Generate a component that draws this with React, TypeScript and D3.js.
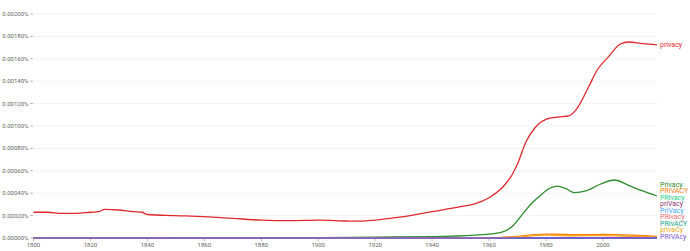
import React from "react";
import * as d3 from "d3";

// values are in units of 0.00001 %
const privacyYears = [1800, 1805, 1810, 1815, 1820, 1823, 1825, 1830, 1835, 1838, 1840, 1850, 1860, 1870, 1880, 1890, 1900, 1910, 1915, 1920, 1930, 1940, 1950, 1955, 1960, 1965, 1968, 1970, 1973, 1976, 1980, 1984, 1988, 1991, 1995, 1998, 2002, 2006, 2009, 2014, 2019];
const privacyValues = [23, 23, 22, 22, 23, 23.5, 25.6, 25, 23.5, 23, 21, 20, 19, 17.5, 16, 15.5, 16, 15.2, 15, 16, 19, 23.5, 28, 30.5, 36, 46, 56, 66, 86, 98, 106, 108, 109, 116, 135, 150, 162, 173, 175, 173.5, 172.5];

const capYears = [1800, 1850, 1900, 1920, 1940, 1955, 1960, 1964, 1968, 1972, 1975, 1978, 1981, 1984, 1987, 1990, 1994, 1999, 2004, 2009, 2014, 2019];
const capValues = [0.1, 0.2, 0.4, 0.8, 1.2, 2.5, 3.5, 4.7, 10, 22, 31, 38, 44, 46.4, 44, 40.5, 42, 48, 51.8, 47, 42, 37.5];

const upperYears = [1800, 1950, 1960, 1965, 1970, 1975, 1980, 1985, 1990, 1995, 2000, 2005, 2010, 2015, 2019];
const upperValues = [0, 0.2, 0.3, 0.6, 1.5, 2.8, 3.5, 3.3, 3, 3, 3.2, 3.1, 2.5, 2, 1.5];

const lowCYears = [1800, 1960, 1970, 1980, 1990, 2000, 2010, 2019];
const lowCValues = [0, 0.1, 1, 2.5, 2, 2.2, 1.5, 1];

const flatYears = [1800, 1900, 1960, 2000, 2019];
const flatValues = [0, 0, 0.05, 0.1, 0.1];

const seriesNames = ["privacy", "Privacy", "PRIVACY", "PRivacy", "priVacy", "PriVacy", "PRivacy", "PRIvACY", "privaCy", "PRIVAcy"];
const seriesColors = ["#e0282e", "#2e8b2e", "#ff7f0e", "#22d08a", "#8e3a72", "#4aa6ff", "#ee6e73", "#1d9c8a", "#f5a623", "#7b55d8"];
const seriesYears = [privacyYears, capYears, upperYears, flatYears, flatYears, flatYears, flatYears, flatYears, lowCYears, flatYears];
const seriesValues = [privacyValues, capValues, upperValues, flatValues, flatValues, flatValues, flatValues, flatValues, lowCValues, flatValues];

const yTicks = [0, 20, 40, 60, 80, 100, 120, 140, 160, 180, 200];
const xTicks = [1800, 1820, 1840, 1860, 1880, 1900, 1920, 1940, 1960, 1980, 2000];

const W = 690;
const H = 251;

export default function App() {
  const x = d3.scaleLinear().domain([1800, 2019]).range([33.5, 657]);
  const y = d3.scaleLinear().domain([0, 200]).range([238, 14]);

  const line = d3
    .line<[number, number]>()
    .x((d) => x(d[0]))
    .y((d) => y(d[1]))
    .curve(d3.curveMonotoneX);

  // draw order: reverse so the red one ends up on top, purple flat one last at bottom
  const order = [1, 2, 3, 4, 5, 6, 7, 8, 0, 9];

  // stacked labels for the lower group, anchored at the zero line
  const stackLabels = seriesNames.slice(1);
  const step = 6.5;

  return (
    <svg
      width={W}
      height={H}
      style={{ position: "fixed", left: 0, top: 0, fontFamily: "Roboto, sans-serif" }}
    >
      <rect width={W} height={H} fill="#fff" />
      {yTicks.map((t) => (
        <g key={t}>
          <line x1={x(1800)} x2={x(2019)} y1={y(t)} y2={y(t)} stroke="#f3f3f3" strokeWidth={1} />
          <line x1={30} x2={33} y1={y(t)} y2={y(t)} stroke="#888" strokeWidth={0.6} />
          <text x={28.5} y={y(t)} dy="0.33em" textAnchor="end" fontSize={6} fill="#666">
            {(t * 0.00001).toFixed(5) + "%"}
          </text>
        </g>
      ))}
      <line x1={x(1800)} x2={x(2019)} y1={y(0)} y2={y(0)} stroke="#999" strokeWidth={0.8} />
      {xTicks.map((t) => (
        <g key={t}>
          <line x1={x(t)} x2={x(t)} y1={y(0)} y2={y(0) + 3} stroke="#888" strokeWidth={0.6} />
          <text x={x(t)} y={y(0) + 9} textAnchor="middle" fontSize={6} fill="#666">
            {t}
          </text>
        </g>
      ))}
      {order.map((i) => (
        <path
          key={i}
          d={line(seriesYears[i].map((yr, k) => [yr, seriesValues[i][k]] as [number, number])) || ""}
          fill="none"
          stroke={seriesColors[i]}
          strokeWidth={i === 9 ? 1.6 : 1.3}
        />
      ))}
      <text
        x={x(2019) + 3}
        y={y(privacyValues[privacyValues.length - 1])}
        dy="0.33em"
        fontSize={7}
        fill={seriesColors[0]}
      >
        {seriesNames[0]}
      </text>
      {stackLabels.map((name, k) => (
        <text
          key={k}
          x={x(2019) + 3}
          y={y(0) - 1.5 - (stackLabels.length - 1 - k) * step}
          dy="0.33em"
          fontSize={7}
          fill={seriesColors[k + 1]}
        >
          {name}
        </text>
      ))}
    </svg>
  );
}
